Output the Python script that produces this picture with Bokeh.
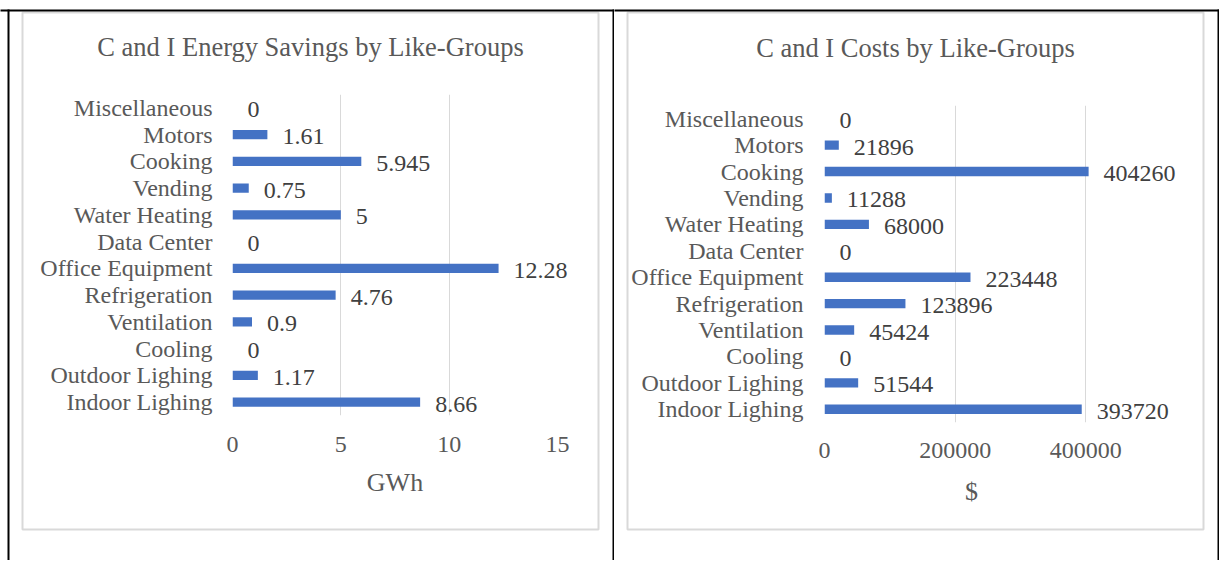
from bokeh.plotting import figure
from bokeh.models import (FactorRange, Range1d, FixedTicker, NumeralTickFormatter,
                          ColumnDataSource)
from bokeh.layouts import row
from bokeh.core.properties import value
from bokeh.embed import file_html
from bokeh.resources import INLINE

# ---- data (bottom to top, as drawn) ----
categories = ["Indoor Lighing", "Outdoor Lighing", "Cooling", "Ventilation",
              "Refrigeration", "Office Equipment", "Data Center", "Water Heating",
              "Vending", "Cooking", "Motors", "Miscellaneous"]
savings_gwh = [8.66, 1.17, 0, 0.9, 4.76, 12.28, 0, 5, 0.75, 5.945, 1.61, 0]
costs_usd = [393720, 51544, 0, 45424, 123896, 223448, 0, 68000, 11288, 404260, 21896, 0]

title_left = "C and I Energy Savings by Like-Groups"
title_right = "C and I Costs by Like-Groups"
xlabel_left = "GWh"
xlabel_right = "$"
ticks_left = [0, 5, 10, 15]
ticks_right = [0, 200000, 400000]
xmax_left = 15
xmax_right = 450000

FONT = "Liberation Serif"
TXT = "#595959"
LBL = "#404040"
BAR = "#4472C4"
GRID = "#D9D9D9"
H = 560


def make_panel(vals, labels, width, fl, ft, fw, fh, xmax, ticks, title, title_y,
               xlabel, card, black_lines, tick_standoff, label_standoff, ylab_standoff):
    p = figure(width=width, height=H, title=None,
               y_range=FactorRange(*categories), x_range=Range1d(0, xmax),
               output_backend="svg", toolbar_location=None,
               min_border_left=fl, min_border_top=ft,
               min_border_right=width - fl - fw,
               min_border_bottom=H - ft - fh)
    if "frame_align" in p.properties():
        p.frame_align = False
    p.outline_line_color = None
    p.background_fill_color = "white"
    p.border_fill_color = "white"

    # convert canvas pixels to this panel's data space (for decorations only)
    ncat = len(categories)
    fb = ft + fh

    def dx(px):
        return (px - fl) / fw * xmax

    def dy(py):
        return (fb - py) / fh * ncat

    src = ColumnDataSource(dict(cat=categories, val=vals, lbl=labels))
    p.hbar(y="cat", right="val", left=0, height=0.355, source=src,
           fill_color=BAR, line_color=None)
    p.text(x="val", y="cat", text="lbl", source=src, x_offset=15, y_offset=2,
           text_align="left", text_baseline="middle", level="overlay",
           text_font=value(FONT), text_font_size="24px", text_color=LBL)

    p.xgrid.grid_line_color = GRID
    p.xgrid.grid_line_width = 1
    p.ygrid.grid_line_color = None

    xa = p.xaxis[0]
    xa.ticker = FixedTicker(ticks=ticks)
    xa.formatter = NumeralTickFormatter(format="0")
    xa.axis_line_color = None
    xa.major_tick_line_color = None
    xa.minor_tick_line_color = None
    xa.major_tick_out = 0
    xa.major_tick_in = 0
    xa.major_label_standoff = tick_standoff
    xa.major_label_text_font = FONT
    xa.major_label_text_font_size = "24px"
    xa.major_label_text_color = TXT
    xa.axis_label = xlabel
    xa.axis_label_standoff = label_standoff
    xa.axis_label_text_font = FONT
    xa.axis_label_text_font_size = "26px"
    xa.axis_label_text_font_style = "normal"
    xa.axis_label_text_color = TXT

    ya = p.yaxis[0]
    ya.axis_line_color = None
    ya.major_tick_line_color = None
    ya.minor_tick_line_color = None
    ya.major_tick_out = 0
    ya.major_tick_in = 0
    ya.major_label_standoff = ylab_standoff
    ya.major_label_text_font = FONT
    ya.major_label_text_font_size = "24px"
    ya.major_label_text_color = TXT

    cl, cr, ct, cb = card
    # chart title, centred on the card
    p.text(x=[dx((cl + cr) / 2)], y=[dy(title_y)], text=[title],
           text_align="center", text_baseline="middle", level="overlay",
           text_font=value(FONT), text_font_size="26.5px", text_color=TXT)

    # card border (decoration)
    p.quad(left=[dx(cl)], right=[dx(cr)], top=[dy(ct)], bottom=[dy(cb)],
           fill_color=None, line_color=GRID, line_width=2, level="overlay")
    # table lines (decoration)
    for (l, r, t, b) in black_lines:
        p.quad(left=[dx(l)], right=[dx(r)], top=[dy(t)], bottom=[dy(b)],
               fill_color="black", line_color=None, level="overlay")
    return p


lab_left = [f"{v:g}" for v in savings_gwh]
lab_right = [str(v) for v in costs_usd]

W1, W2 = 614, 605
p1 = make_panel(savings_gwh, lab_left, W1, 232, 94, 325, 321, xmax_left, ticks_left,
                title_left, 47, xlabel_left, card=(22, 598, 12, 529),
                black_lines=[(0, W1, 9, 11), (7, 9, 9, H), (612, 614, 9, H)],
                tick_standoff=21, label_standoff=13, ylab_standoff=20)
p2 = make_panel(costs_usd, lab_right, W2, 210, 105, 294, 317, xmax_right, ticks_right,
                title_right, 47, xlabel_right, card=(13, 589, 12, 529),
                black_lines=[(0, W2, 9, 11), (603, 605, 9, H)],
                tick_standoff=20, label_standoff=16, ylab_standoff=21)

layout = row(p1, p2)
open("out.html", "w").write(file_html(layout, INLINE, "C and I Like-Groups"))
